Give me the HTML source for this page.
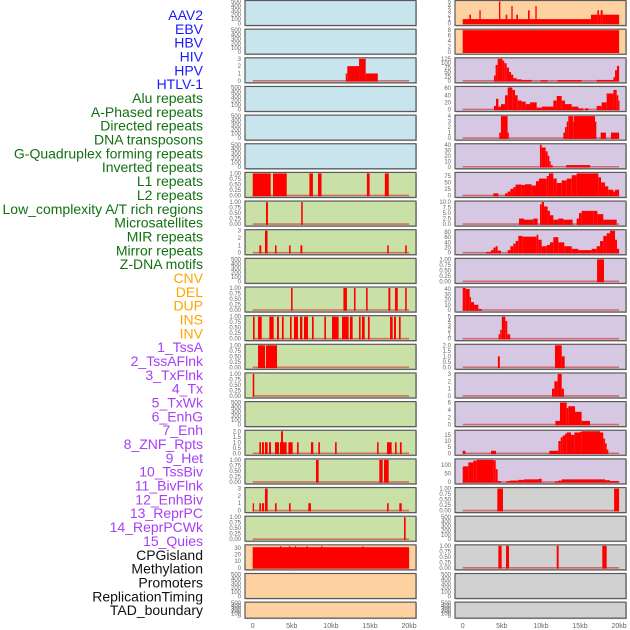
<!DOCTYPE html>
<html><head><meta charset="utf-8"><style>
html,body{margin:0;padding:0;background:#fff;}
svg{display:block;font-family:"Liberation Sans",sans-serif;}
</style></head><body>
<svg id="chart" width="630" height="630"></svg>
<script>
const rowLabels=["AAV2","EBV","HBV","HIV","HPV","HTLV-1","Alu repeats","A-Phased repeats","Directed repeats","DNA transposons","G-Quadruplex forming repeats","Inverted repeats","L1 repeats","L2 repeats","Low_complexity A/T rich regions","Microsatellites","MIR repeats","Mirror repeats","Z-DNA motifs","CNV","DEL","DUP","INS","INV","1_TssA","2_TssAFlnk","3_TxFlnk","4_Tx","5_TxWk","6_EnhG","7_Enh","8_ZNF_Rpts","9_Het","10_TssBiv","11_BivFlnk","12_EnhBiv","13_ReprPC","14_ReprPCWk","15_Quies","CPGisland","Methylation","Promoters","ReplicationTiming","TAD_boundary"];
const labelGroups=[6,13,5,15,5];
const xTickValues=[0,5,10,15,20];
const xTickLabels=["0","5kb","10kb","15kb","20kb"];
const ticks500=[0,100,200,300,400,500];
const ticks1=[0,0.25,0.5,0.75,1];
const ticks1Labels=["0.00","0.25","0.50","0.75","1.00"];
// segments: [startKb, endKb, value]
const L2=[[11.9,12.1,1],[12.1,13.6,2],[13.6,14.45,3],[14.45,16,1]];
const L6=[[0,2.3,1],[2.6,4.35,1],[7.25,7.7,1],[8.35,8.8,1],[14.6,14.95,1],[16.9,17.4,1]];
const L7=[[1.7,1.95,1],[6.2,6.4,1]];
const L8=[[0.85,1.1,1],[1.57,1.9,3],[2.85,3.05,1],[4.65,4.85,1],[6.1,6.35,1],[17.2,17.4,1],[19.5,19.7,1]];
const L10=[[4.9,5.1,1],[11.6,12.05,1],[12.95,13.15,1],[14.5,14.7,1],[17.35,17.6,1],[18.2,18.55,1],[19.5,19.7,1]];
const L11=[[0.04,0.25,1],[0.68,1.15,1],[2.13,2.68,1],[3.11,3.36,1],[3.74,3.96,1],[4.77,4.98,1],[5.28,5.79,1],[6.05,6.35,1],[6.56,7.07,1],[7.58,7.8,1],[9.16,9.37,1],[10.14,10.99,1],[11.42,12.27,1],[12.44,12.78,1],[13.59,13.8,1],[13.97,14.32,1],[14.74,14.96,1],[17.56,17.9,1],[18.07,18.32,1],[18.7,18.92,1]];
const L12=[[0.68,1.58,1],[1.7,3.11,1]];
const L13=[[0,0.2,1]];
const L15=[[0.85,1.06,1],[1.19,1.44,1],[1.57,1.91,1],[2.09,2.34,1],[2.85,3.36,1],[3.49,4.34,1],[3.62,3.87,2],[4.56,5.11,1],[5.67,5.88,1],[7.45,7.75,1],[8.39,8.6,1],[10.53,10.74,1],[15.9,16.1,1],[17.18,17.77,1],[18.2,18.4,1],[18.83,19.05,1]];
const L16=[[8.09,8.43,1],[16.19,16.62,1],[16.79,17.39,1]];
const L17=[[0,0.17,1],[0.85,1.06,1],[1.19,1.44,1],[1.57,1.91,3],[2.85,3.06,1],[4.64,4.85,1],[7.11,7.45,1],[17.18,17.39,1],[18.75,19.05,1]];
const L18=[[19.35,19.56,1]];
const L19=[[0,20,31],[3.5,3.65,32.5],[4.65,4.8,32.5],[5.4,5.55,32.5],[6.9,7.05,32.5],[8.75,8.9,32.5],[14,14.15,32.5]];
const R0=[[0,16.4,1],[16.4,17.22,2],[17.22,17.43,3],[17.43,17.64,2],[17.64,17.9,3],[17.9,20,2],[0.85,1.06,2],[2.13,2.3,3],[4.64,4.81,5],[5.5,5.7,2],[6.22,6.39,4],[6.86,7.07,2],[8.35,8.56,3],[9.29,9.46,4]];
const R1=[[0,20,8]];
const R2=[[4.0,4.21,30],[4.21,4.47,90],[4.47,5.07,125],[5.07,5.32,115],[5.32,5.62,100],[5.62,5.92,75],[5.92,6.18,50],[6.18,6.47,35],[6.47,6.9,15],[6.9,7.54,8],[7.54,8.82,5],[9.97,10.86,3],[12.14,15.21,4],[17.14,19.27,5],[19.27,19.48,20],[19.48,19.73,60],[19.73,20,85]];
const R3=[[4.0,4.26,10],[4.26,4.56,30],[4.56,4.9,8],[4.9,5.41,15],[5.41,5.75,40],[5.75,6.35,62],[6.35,6.69,55],[6.69,7.03,40],[7.03,7.54,25],[7.54,8.06,22],[8.06,8.61,15],[8.61,9.46,20],[9.46,10.1,5],[10.1,11.59,8],[11.59,12.02,25],[12.02,12.66,38],[12.66,13.08,25],[13.08,13.94,15],[13.94,14.79,8],[14.79,15.43,3],[15.64,16.06,3],[17.13,17.77,10],[17.77,18.41,20],[18.41,19.27,45],[19.27,19.69,55],[19.69,19.9,40],[19.9,20,25]];
const R4=[[4.67,4.89,1],[4.89,5.74,4],[5.74,5.9,1],[12.87,13.08,1],[13.08,13.3,2],[13.3,13.5,3],[13.5,14.15,4],[14.15,14.24,3],[14.24,16.92,4],[16.92,17.09,3],[17.64,18.32,1],[18.96,20,1]];
const R5=[[9.88,10.1,40],[10.1,10.61,35],[10.61,10.86,28],[10.86,11.08,20],[11.08,11.25,10],[11.25,11.5,3],[13.22,16.29,3]];
const R6=[[3.92,4.56,8],[5.41,5.75,8],[5.75,6.09,15],[6.09,6.47,25],[6.47,6.77,32],[6.77,7.54,42],[7.54,7.96,40],[7.96,8.82,43],[8.82,9.37,38],[9.37,9.76,55],[9.76,10.74,65],[10.74,11.03,75],[11.03,11.59,85],[11.59,12.02,65],[12.02,12.66,48],[12.66,13.3,58],[13.3,13.94,65],[13.94,14.57,78],[14.57,17.34,85],[17.34,17.69,70],[17.69,18.2,50],[18.2,18.62,35],[18.62,19.26,22],[19.26,19.48,15],[19.48,20,22]];
const R7=[[7.2,7.84,2.5],[7.84,9.03,2],[9.03,9.59,2.5],[9.88,10.1,9],[10.1,10.4,10],[10.4,10.86,8],[10.86,11.16,6],[11.16,11.59,4],[11.59,12.23,2],[12.23,12.87,2.5],[12.87,14.06,2],[14.57,14.87,2.5],[14.87,15.21,5],[15.21,16.7,6],[16.7,17.22,6],[17.22,17.98,4.5],[17.98,19.69,2]];
const R8=[[3.0,3.62,3],[3.62,3.92,10],[3.92,4.22,20],[4.22,4.47,25],[4.47,4.9,8],[5.75,6.09,10],[6.09,6.47,25],[6.47,6.77,35],[6.77,7.11,45],[7.11,7.63,65],[7.63,9.46,62],[9.46,9.67,70],[9.67,10.1,50],[10.1,10.74,25],[10.74,11.16,30],[11.16,11.59,40],[11.59,12.23,60],[12.23,12.99,40],[12.99,13.94,25],[13.94,14.79,15],[14.79,16.49,10],[16.49,17.13,15],[17.13,17.56,25],[17.56,17.98,45],[17.98,18.41,65],[18.41,18.83,75],[18.83,19.48,85],[19.48,19.73,50],[19.73,20,15]];
const R9=[[17.18,18.07,1]];
const R10=[[0,0.39,42],[0.39,0.89,40],[0.89,1.06,25],[1.06,1.45,15],[1.45,2.0,10],[2.0,2.43,2]];
const R11=[[4.6,4.8,1],[4.8,5.0,2],[5.0,5.45,5],[5.45,5.7,4],[5.7,6.07,1]];
const R12=[[4.5,4.75,1],[11.8,12.66,2],[12.66,13.04,1]];
const R13=[[11.42,11.72,1],[11.72,12.14,2],[12.14,12.66,3],[12.66,12.95,1]];
const R14=[[11.85,12.44,1],[12.44,13.3,6],[13.3,13.5,4.5],[13.5,14.36,5],[14.36,15.21,3.5],[15.21,16.28,1]];
const R15=[[0,0.34,2],[3.62,4.26,2],[11.08,12.23,2],[12.23,12.53,10],[12.53,12.78,13],[12.78,13.08,14.5],[13.08,13.3,16],[13.3,13.85,17],[13.85,14.28,15],[14.28,15.0,17],[15.0,15.21,17.5],[15.21,17.56,18],[17.56,17.98,17],[17.98,18.2,12],[18.2,18.41,8],[18.41,18.62,3]];
const R16=[[0,0.08,90],[0.08,0.72,92],[0.72,1.36,115],[1.36,1.79,125],[1.79,3.92,130],[3.92,4.22,128],[4.22,4.47,75],[4.47,4.9,5],[5.62,6.05,5],[6.05,7.11,8],[7.11,7.88,12],[7.88,9.67,15],[9.67,10.1,18],[11.8,12.23,3],[12.23,12.66,8],[12.66,18.2,15],[18.2,18.83,10],[18.83,20,5]];
const R17=[[4.43,5.15,1],[19.36,20,1]];
const R19=[[4.56,4.98,1],[5.54,5.92,1],[12.02,12.27,1],[17.85,18.41,1]];

const BG={b:"#c8e4ec",g:"#c9e1a6",o:"#fdd1a0",p:"#d6c8e2",k:"#d1d1d1"};
// [segs, bg, ymax, ticks, tickLabels]
const leftPanels=[
 [null,"b",500],[null,"b",500],[L2,"b",3,[0,1,2,3]],[null,"b",500],[null,"b",500],[null,"b",500],
 [L6,"g",1,ticks1,ticks1Labels],[L7,"g",1,ticks1,ticks1Labels],[L8,"g",3,[0,1,2,3]],[null,"g",500],
 [L10,"g",1,ticks1,ticks1Labels],[L11,"g",1,ticks1,ticks1Labels],[L12,"g",1,ticks1,ticks1Labels],[L13,"g",1,ticks1,ticks1Labels],
 [null,"g",500],[L15,"g",2,[0,0.5,1,1.5,2],["0.0","0.5","1.0","1.5","2.0"]],[L16,"g",1,ticks1,ticks1Labels],[L17,"g",3,[0,1,2,3]],
 [L18,"g",1,ticks1,ticks1Labels],[L19,"o",33,[0,10,20,30]],[null,"o",500],[null,"o",500]];
const rightPanels=[
 [R0,"o",5,[0,1,2,3,4,5]],[R1,"o",8,[0,2,4,6,8]],[R2,"p",125,[0,25,50,75,100,125]],[R3,"p",62,[0,20,40,60]],
 [R4,"p",4,[0,1,2,3,4]],[R5,"p",40,[0,10,20,30,40]],[R6,"p",85,[0,25,50,75]],[R7,"p",10,[0,2.5,5,7.5,10],["0.0","2.5","5.0","7.5","10.0"]],
 [R8,"p",85,[0,20,40,60,80]],[R9,"p",1,ticks1,ticks1Labels],[R10,"p",42,[0,10,20,30,40]],[R11,"p",5,[0,1,2,3,4,5]],
 [R12,"p",2,[0,0.5,1,1.5,2],["0.0","0.5","1.0","1.5","2.0"]],[R13,"p",3,[0,1,2,3]],[R14,"p",6,[0,2,4,6]],[R15,"p",18,[0,5,10,15]],
 [R16,"p",130,[0,50,100]],[R17,"k",1,ticks1,ticks1Labels],[null,"k",500],[R19,"k",1,ticks1,ticks1Labels],[null,"k",500],[null,"k",500]];

const NS="http://www.w3.org/2000/svg";
const svg=document.getElementById("chart");
function mk(tag,attrs,parent){const e=document.createElementNS(NS,tag);for(const k in attrs)e.setAttribute(k,attrs[k]);(parent||svg).appendChild(e);return e;}

// row labels
const groupColors=["#1a1aff","#127012","#ffa500","#a640f5","#111"];
let gi=0,gc=0;
rowLabels.forEach((t,i)=>{
  const e=mk("text",{x:203,y:20+i*13.84,"text-anchor":"end","font-size":"14",fill:groupColors[gi]});
  e.textContent=t;
  
  
  gc++; if(gc>=labelGroups[gi]){gi++;gc=0;}
});

function drawColumn(panels,left,zero,colName){
  const xs=kb=>zero+kb*7.82;
  panels.forEach((p,i)=>{
    const [segs,bg,ymax,tk,tl]=p;
    const top=i*28.65+0.5, H=(i===21)?16:25;
    const g=mk("g",{});
    
    
    mk("rect",{x:left+1,y:top+1,width:171,height:H,fill:"#999",opacity:0.6},g);
    mk("rect",{x:left,y:top,width:171,height:H,fill:BG[bg],stroke:"#5a5a5a","stroke-width":1.2},g);
    const ys=v=>top+H-2-v/ymax*(H-3);
    const ticks=tk||ticks500;
    ticks.forEach((v,j)=>{
      let yy=ys(v);
      if(!segs && ticks===ticks500 && i===21) yy=top+H-2-v/500*(H-3);
      const t=mk("text",{x:left-4,y:yy+2,"text-anchor":"end","font-size":"6",fill:"#666"},g);
      t.textContent=tl?tl[j]:String(v);
      
      
    });
    if(segs){
      mk("line",{x1:xs(0),x2:xs(20),y1:ys(0),y2:ys(0),stroke:"#c44",opacity:0.7,"stroke-width":1.6},g);
      segs.forEach(s=>{
        const r=mk("rect",{x:xs(s[0]),y:ys(s[2]),width:Math.max(1.2,xs(s[1])-xs(s[0])),height:ys(0)-ys(s[2])+0.8,fill:"#ff0000"},g);
        
        
      });
    }
  });
  xTickValues.forEach((v,j)=>{
    const t=mk("text",{x:xs(v),y:628,"text-anchor":"middle","font-size":"7",fill:"#666"});
    t.textContent=xTickLabels[j];
    
    
  });
}
drawColumn(leftPanels,245,252.7,"left");
drawColumn(rightPanels,455,462.7,"right");
</script>
</body></html>
